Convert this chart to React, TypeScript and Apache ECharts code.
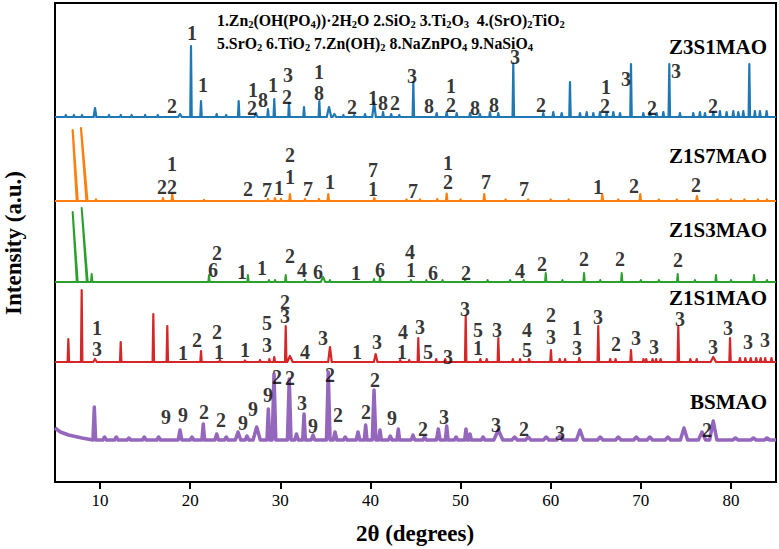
import React, { useEffect, useRef } from "react";
import * as echarts from "echarts";

const FONT = '"Liberation Serif", "Times New Roman", serif';

// 2θ axis
const thetaMin = 5;
const thetaMax = 85;
const thetaTicks = [10, 20, 30, 40, 50, 60, 70, 80];

// Sample names, top to bottom
const sampleNames = ["Z3S1MAO", "Z1S7MAO", "Z1S3MAO", "Z1S1MAO", "BSMAO"];

// Peaks: [2θ, intensity above baseline, half width]
const z3s1Base = 365;
const z3s1Peaks = [
  [6.2, 2], [7.1, 2], [8.0, 2], [9.44, 9, 0.15], [11.0, 2], [12.3, 2], [13.5, 2], [15.0, 2], [16.4, 2],
  [18.87, 3, 0.2], [20.09, 71], [21.2, 16], [22.94, 3], [24.0, 2], [25.38, 16], [27.3, 4, 0.15],
  [28.63, 8], [29.33, 18], [30.96, 14], [32.63, 10], [34.33, 16], [35.4, 10, 0.25], [36.0, 3, 0.2],
  [37.0, 2], [38.2, 2], [39.4, 3], [40.4, 15, 0.2], [41.4, 5], [42.3, 3], [43.2, 2], [44.76, 35],
  [47.35, 4], [48.46, 5], [49.57, 4], [51.05, 4], [52.15, 3], [53.26, 5], [54.19, 4], [55.85, 54],
  [59.18, 4], [60.29, 5], [61.22, 4], [62.14, 35], [63.25, 4], [63.99, 5], [64.73, 4], [65.47, 5],
  [66.21, 4], [66.95, 5], [67.69, 4], [68.91, 53], [70.28, 4], [71.02, 5], [71.76, 4], [72.5, 5],
  [73.16, 53], [74.34, 4], [75.82, 4], [76.56, 5], [77.12, 4], [78.04, 5], [78.78, 6], [79.52, 5],
  [80.26, 6], [80.82, 5], [81.37, 6], [82.04, 53], [82.66, 6], [83.22, 6], [83.96, 6],
];

const z1s7Base = 281;
// Leaning spikes: [top 2θ, foot 2θ, intensity]
const z1s7Spikes = [[6.96, 7.47, 71], [7.88, 8.55, 73]];
const z1s7Peaks = [
  [9.55, 1.5], [16.98, 3], [18.02, 7], [21.53, 1], [28.63, 2], [29.41, 3], [30.08, 2], [31.07, 7],
  [32.74, 2], [34.29, 2], [35.32, 7], [40.43, 3], [44.0, 1.5], [45.5, 1.5], [47.42, 2], [48.46, 7.5],
  [50.0, 1.5], [52.63, 7], [55.0, 1.5], [57.5, 1.5], [60.0, 1.5], [62.0, 1.5], [65.73, 7], [67.5, 1.5],
  [69.94, 7], [72.0, 1.5], [74.0, 1.5], [76.23, 5], [78.5, 1.5], [80.0, 1.5], [81.5, 1.5], [83.0, 1.5],
  [84.0, 1.5],
];

const z1s3Base = 200;
const z1s3Spikes = [[6.96, 7.47, 70], [7.96, 8.58, 74]];
const z1s3Peaks = [
  [9.07, 8], [22.09, 7], [26.41, 7], [28.74, 2], [29.41, 2], [30.6, 7], [32.74, 2], [34.74, 5, 0.25],
  [35.5, 2], [40.4, 3], [41.06, 5], [44.5, 2], [46.2, 2], [48.0, 2], [50.5, 2], [53.0, 2], [55.5, 2],
  [57.0, 2], [59.45, 9], [61.3, 2], [63.7, 9], [65.5, 2], [67.88, 9], [70.0, 2], [72.0, 2], [74.09, 8],
  [76.0, 2], [78.34, 7], [80.0, 2], [82.56, 7], [84.0, 2],
];

const z1s1Base = 120;
const z1s1Peaks = [
  [6.48, 23], [7.96, 72], [9.44, 3, 0.2], [12.29, 20], [15.91, 48], [17.46, 36], [21.2, 11], [23.3, 2],
  [26.08, 1.5], [27.75, 2], [28.78, 3], [29.33, 5], [30.6, 36], [31.07, 6, 0.3], [35.51, 15, 0.2],
  [40.58, 8, 0.2], [43.3, 2], [44.3, 2], [45.31, 24], [47.3, 3], [48.3, 3], [50.57, 46], [52.2, 3],
  [52.9, 3], [54.19, 24], [55.8, 3], [56.6, 3], [57.6, 3], [60.03, 12], [61.0, 3], [61.6, 3], [63.17, 4],
  [65.28, 36], [66.6, 3], [67.2, 3], [68.91, 12], [70.3, 3], [70.6, 3], [71.3, 3], [71.7, 3], [72.2, 3],
  [74.16, 36], [75.5, 3], [76.2, 3], [78.04, 5, 0.3], [79.9, 24], [81.0, 4], [81.6, 4], [82.2, 4],
  [82.8, 4], [83.3, 4], [83.8, 4], [84.5, 4],
];

const bsmaoBase = 42;
// Low-angle background of the BSMAO scan: [2θ, intensity]
const bsmaoLead = [[5, 54], [5.6, 50], [6.5, 47], [8.0, 44]];
const bsmaoPeaks = [
  [9.36, 33, 0.15], [10.5, 3, 0.2], [11.8, 3, 0.2], [13.2, 2, 0.2], [14.9, 3, 0.2], [16.5, 3, 0.2],
  [18.87, 10, 0.2], [20.2, 3, 0.2], [21.45, 16, 0.15], [22.94, 6, 0.2], [24.0, 3, 0.2], [25.31, 8, 0.3],
  [26.3, 4, 0.2], [27.38, 13, 0.4], [28.67, 31, 0.15], [29.3, 66, 0.2], [30.99, 61, 0.2], [31.8, 6, 0.2],
  [32.63, 26, 0.15], [33.63, 5, 0.2], [35.32, 68, 0.2], [36.07, 8, 0.2], [37.2, 3, 0.2], [38.62, 8, 0.2],
  [39.47, 15, 0.15], [40.4, 50, 0.2], [41.06, 10, 0.15], [42.2, 4, 0.2], [43.09, 11, 0.15],
  [44.72, 5, 0.2], [46.0, 3, 0.2], [47.53, 11, 0.2], [48.46, 14, 0.15], [49.5, 3, 0.2], [50.6, 11, 0.15],
  [51.05, 6, 0.15], [52.5, 3, 0.2], [54.19, 10, 0.5], [56.0, 3, 0.3], [57.5, 3, 0.3], [59.5, 3, 0.3],
  [61.0, 4, 0.3], [63.25, 10, 0.4], [65.5, 3, 0.3], [67.5, 3, 0.3], [69.5, 3, 0.3], [71.0, 3, 0.3],
  [73.0, 3, 0.3], [74.79, 12, 0.4], [76.79, 8, 0.4], [78.04, 19, 0.4], [80.5, 2, 0.3], [82.5, 2, 0.3],
  [84.0, 2, 0.3],
];

// Phase indices placed over the peaks: [2θ, intensity, phase]
const z3s1Phases = [
  [17.98, 376, "2"], [20.2, 449, "1"], [21.42, 397, "1"], [26.97, 392, "1"], [26.86, 374, "2"],
  [28.08, 382, "8"], [29.19, 397, "1"], [30.85, 407, "3"], [30.74, 385, "2"], [34.29, 410, "1"],
  [34.29, 389, "8"], [37.95, 375, "2"], [40.28, 384, "1"], [41.39, 379, "8"], [42.73, 379, "2"],
  [44.61, 406, "3"], [46.5, 376, "8"], [48.94, 396, "1"], [48.94, 377, "2"], [51.6, 374, "8"],
  [53.71, 377, "8"], [56.04, 425, "3"], [58.93, 377, "2"], [66.14, 395, "1"], [66.03, 376, "2"],
  [68.36, 403, "3"], [71.24, 374, "2"], [73.91, 411, "3"], [78.02, 376, "2"],
];
const z1s7Phases = [
  [16.87, 295, "2"], [17.98, 295, "2"], [17.98, 318, "1"], [26.41, 293, "2"], [28.52, 292, "7"],
  [29.85, 294, "1"], [31.07, 327, "2"], [31.07, 305, "1"], [33.07, 293, "7"], [35.51, 300, "1"],
  [40.28, 312, "7"], [40.28, 293, "1"], [44.72, 291, "7"], [48.61, 319, "1"], [48.61, 300, "2"],
  [52.82, 300, "7"], [57.04, 293, "7"], [65.25, 295, "1"], [69.24, 296, "2"], [76.12, 297, "2"],
];
const z1s3Phases = [
  [22.97, 229, "2"], [22.53, 212, "6"], [25.75, 210, "1"], [27.97, 214, "1"], [31.07, 226, "2"],
  [32.41, 212, "4"], [34.18, 210, "6"], [38.4, 209, "1"], [41.06, 212, "6"], [44.5, 212, "1"],
  [44.39, 230, "4"], [46.94, 209, "6"], [50.6, 209, "2"], [56.6, 211, "4"], [59.04, 218, "2"],
  [63.7, 223, "2"], [67.69, 223, "2"], [74.13, 222, "2"],
];
const z1s1Phases = [
  [9.66, 154, "1"], [9.66, 133, "3"], [19.2, 129, "1"], [20.76, 142, "2"], [22.98, 150, "2"],
  [23.2, 130, "1"], [26.08, 132, "1"], [28.52, 159, "5"], [28.52, 137, "3"], [30.52, 180, "2"],
  [30.52, 166, "3"], [32.74, 130, "4"], [34.74, 144, "3"], [38.51, 130, "1"], [40.73, 140, "3"],
  [43.61, 150, "4"], [43.5, 130, "1"], [45.5, 155, "3"], [46.39, 130, "5"], [48.61, 125, "3"],
  [50.49, 173, "3"], [51.93, 152, "5"], [51.93, 134, "1"], [54.04, 152, "3"], [57.37, 152, "4"],
  [57.37, 132, "5"], [60.03, 167, "2"], [60.03, 145, "3"], [62.92, 154, "1"], [62.92, 134, "3"],
  [65.25, 165, "3"], [67.25, 138, "2"], [69.47, 144, "3"], [71.46, 135, "3"], [74.35, 163, "3"],
  [78.01, 135, "3"], [79.67, 154, "3"], [81.89, 140, "3"], [83.78, 142, "3"],
];
const bsmaoPhases = [
  [17.32, 65, "9"], [19.2, 67, "9"], [21.53, 70, "2"], [23.42, 62, "2"], [25.86, 59, "9"],
  [26.97, 73, "9"], [28.63, 87, "9"], [29.63, 105, "2"], [31.07, 104, "2"], [32.41, 79, "3"],
  [33.63, 56, "9"], [35.51, 107, "2"], [36.4, 67, "2"], [39.51, 70, "2"], [40.51, 102, "2"],
  [42.39, 64, "9"], [45.83, 53, "2"], [48.16, 65, "3"], [53.93, 57, "3"], [57.04, 53, "2"],
  [61.03, 49, "3"], [77.34, 52, "2"],
];

const COLORS = ["#1f77b4", "#ff7f0e", "#2ca02c", "#d62728", "#9467bd"];

type Peak = number[];

function buildTrace(base: number, peaks: Peak[], spikes: number[][] = [], lead: number[][] = []) {
  const pts: number[][] = lead.length ? lead.map((p) => [p[0], p[1]]) : [[thetaMin, base]];
  const items: { at: number; draw: () => void }[] = [];
  peaks.forEach(([t, h, w = 0.08]) => {
    items.push({ at: t, draw: () => pts.push([t - w, base], [t, base + h], [t + w, base]) });
  });
  spikes.forEach(([top, foot, h]) => {
    items.push({ at: foot, draw: () => pts.push([foot - 0.05, base], [top, base + h], [foot + 0.05, base]) });
  });
  items.sort((a, b) => a.at - b.at).forEach((it) => it.draw());
  pts.push([thetaMax, base]);
  return pts;
}

const subRich = {
  s: { fontSize: 10.5, fontWeight: "bold", fontFamily: FONT, verticalAlign: "bottom", lineHeight: 10 },
};

export default function App() {
  const ref = useRef<HTMLDivElement>(null);

  useEffect(() => {
    if (!ref.current) return;
    const chart = echarts.init(ref.current, null, { renderer: "svg" });

    const traces = [
      { data: buildTrace(z3s1Base, z3s1Peaks), width: 2.2 },
      { data: buildTrace(z1s7Base, z1s7Peaks, z1s7Spikes), width: 2.2 },
      { data: buildTrace(z1s3Base, z1s3Peaks, z1s3Spikes), width: 2 },
      { data: buildTrace(z1s1Base, z1s1Peaks), width: 2.2 },
      { data: buildTrace(bsmaoBase, bsmaoPeaks, [], bsmaoLead), width: 3.5 },
    ];
    const phaseSets = [z3s1Phases, z1s7Phases, z1s3Phases, z1s1Phases, bsmaoPhases];
    const nameY = [47, 156, 230, 298, 402];

    const lineSeries = traces.map((t, i) => ({
      type: "line",
      name: sampleNames[i],
      data: t.data,
      showSymbol: false,
      symbol: "none",
      silent: true,
      lineStyle: { color: COLORS[i], width: t.width, join: "round" },
      z: 2,
    }));

    const labelSeries = phaseSets.map((set) => ({
      type: "scatter",
      data: set.map(([t, v, s]) => [t, v, s]),
      symbolSize: 0,
      silent: true,
      z: 5,
      label: {
        show: true,
        position: "inside",
        formatter: (p: any) => p.data[2],
        fontFamily: FONT,
        fontWeight: "bold",
        fontSize: 20,
        color: "#000",
      },
    }));

    chart.setOption({
      animation: false,
      grid: { left: 55, right: 3, top: 3, bottom: 67, show: true, borderColor: "#000", borderWidth: 2 },
      xAxis: {
        type: "value",
        min: thetaMin,
        max: thetaMax,
        splitLine: { show: false },
        axisLine: { show: true, onZero: false, lineStyle: { color: "#000", width: 2 } },
        axisTick: { show: true, customValues: thetaTicks, length: 7, lineStyle: { color: "#000", width: 2 } },
        axisLabel: {
          customValues: thetaTicks,
          fontFamily: FONT,
          fontSize: 17,
          color: "#000",
          margin: 10,
        },
      },
      yAxis: {
        type: "value",
        min: 0,
        max: 479,
        splitLine: { show: false },
        axisLine: { show: true, lineStyle: { color: "#000", width: 2 } },
        axisTick: { show: false },
        axisLabel: { show: false },
      },
      series: [...lineSeries, ...labelSeries],
      graphic: [
        ...sampleNames.map((n, i) => ({
          type: "text",
          x: 767,
          y: nameY[i],
          silent: true,
          z: 10,
          style: {
            text: n,
            fontFamily: FONT,
            fontWeight: "bold",
            fontSize: 21,
            fill: "#000",
            align: "right",
            verticalAlign: "middle",
          },
        })),
        {
          type: "text",
          x: 217,
          y: 20,
          z: 10,
          silent: true,
          style: {
            text: "1.Zn{s|2}(OH(PO{s|4}))·2H{s|2}O 2.SiO{s|2} 3.Ti{s|2}O{s|3}  4.(SrO){s|2}TiO{s|2}",
            fontFamily: FONT,
            fontWeight: "bold",
            fontSize: 15.8,
            lineHeight: 19,
            fill: "#000",
            align: "left",
            verticalAlign: "middle",
            rich: subRich,
          },
        },
        {
          type: "text",
          x: 217,
          y: 43,
          z: 10,
          silent: true,
          style: {
            text: "5.SrO{s|2} 6.TiO{s|2} 7.Zn(OH){s|2} 8.NaZnPO{s|4} 9.NaSiO{s|4}",
            fontFamily: FONT,
            fontWeight: "bold",
            fontSize: 15.8,
            lineHeight: 19,
            fill: "#000",
            align: "left",
            verticalAlign: "middle",
            rich: subRich,
          },
        },
        {
          type: "text",
          x: 415,
          y: 533,
          silent: true,
          style: {
            text: "2θ (degrees)",
            fontFamily: FONT,
            fontWeight: "bold",
            fontSize: 23,
            fill: "#000",
            align: "center",
            verticalAlign: "middle",
          },
        },
        {
          type: "text",
          x: 13,
          y: 243,
          rotation: Math.PI / 2,
          silent: true,
          style: {
            text: "Intensity (a.u.)",
            fontFamily: FONT,
            fontWeight: "bold",
            fontSize: 23,
            fill: "#000",
            align: "center",
            verticalAlign: "middle",
          },
        },
      ],
    });

    return () => chart.dispose();
  }, []);

  return (
    <div
      ref={ref}
      style={{ position: "absolute", left: 0, top: 0, width: 779, height: 549, background: "#fff" }}
    />
  );
}
